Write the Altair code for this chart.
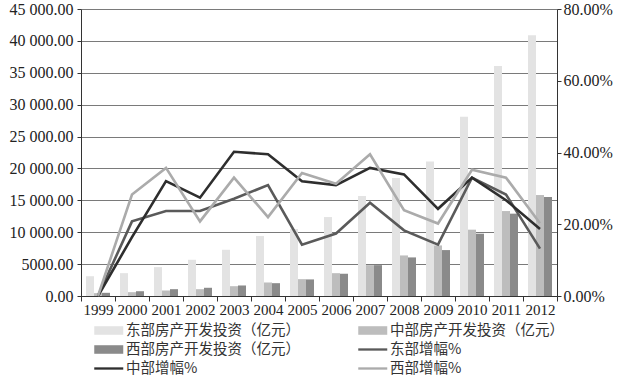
import altair as alt
import pandas as pd

years = [str(y) for y in range(1999, 2013)]
inv_names = ["东部房产开发投资（亿元）", "中部房产开发投资（亿元）", "西部房产开发投资（亿元）"]
rate_names = ["东部增幅%", "中部增幅%", "西部增幅%"]

east_inv = [3100, 3580, 4530, 5680, 7250, 9400, 10500, 12380, 15680, 18500, 21080, 28090, 36050, 40870]
mid_inv = [450, 600, 860, 1070, 1540, 2120, 2640, 3580, 4840, 6360, 7930, 10400, 13320, 15830]
west_inv = [500, 750, 1070, 1290, 1650, 2010, 2600, 3490, 4840, 6050, 7200, 9770, 12910, 15520]

east_rate = [0, 20.8, 23.7, 23.7, 27.1, 30.9, 14.3, 17.4, 26.0, 18.3, 14.3, 33.0, 28.3, 13.2]
mid_rate = [0, 16.4, 32.0, 27.4, 40.2, 39.5, 32.0, 30.9, 35.7, 33.9, 24.3, 33.0, 26.7, 18.7]
west_rate = [0, 28.3, 35.7, 20.8, 33.0, 22.0, 34.3, 31.3, 39.5, 23.9, 20.2, 35.2, 33.0, 20.3]

colors = ["#e3e3e3", "#bdbdbd", "#8a8a8a", "#5a5a5a", "#2e2e2e", "#ababab"]

inv_rows = []
for name, vals in zip(inv_names, [east_inv, mid_inv, west_inv]):
    for y, v in zip(years, vals):
        inv_rows.append({"year": y, "series": name, "value": v})
inv_df = pd.DataFrame(inv_rows)

rate_rows = []
for name, vals in zip(rate_names, [east_rate, mid_rate, west_rate]):
    for y, v in zip(years, vals):
        rate_rows.append({"year": y, "series": name, "rate": v / 100.0})
rate_df = pd.DataFrame(rate_rows)

all_names = inv_names + rate_names
SERIF = "Liberation Serif"
CJK = "Noto Sans CJK SC"

BAR_PATH = "M-1,-0.59H3V0.59H-1Z"
LINE_PATH = "M-1,-0.16H3V0.16H-1Z"
shape_expr = (
    "indexof(['东部增幅%','中部增幅%','西部增幅%'], datum.value) < 0 ? '"
    + BAR_PATH + "' : '" + LINE_PATH + "'"
)

color_enc = alt.Color(
    "series:N",
    scale=alt.Scale(domain=all_names, range=colors),
    sort=all_names,
    legend=alt.Legend(
        title=None,
        orient="none",
        direction="horizontal",
        legendX=13,
        legendY=314,
        columns=2,
        columnPadding=58,
        rowPadding=4,
        padding=0,
        symbolType={"expr": shape_expr},
        symbolFillColor={"expr": "scale('color', datum.value)"},
        symbolSize=210.25,
        symbolStrokeWidth=0,
        symbolOpacity=1,
        labelFont=CJK,
        labelFontSize=14.5,
        labelColor="#333333",
        labelLimit=400,
        labelOffset=17,
    ),
)

x_enc = alt.X(
    "year:N",
    sort=years,
    scale=alt.Scale(domain=years, paddingInner=0, paddingOuter=0),
    axis=alt.Axis(
        title=None,
        labelAngle=0,
        labelFont=SERIF,
        labelFontSize=15,
        labelColor="#222222",
        labelPadding=1,
        tickBand="extent",
        tickSize=5,
        tickColor="#333333",
        domainColor="#333333",
        grid=False,
    ),
)

bars = alt.Chart(inv_df).mark_bar().encode(
    x=x_enc,
    xOffset=alt.XOffset(
        "series:N",
        sort=inv_names,
        scale=alt.Scale(domain=inv_names, paddingInner=0, paddingOuter=0.625),
    ),
    y=alt.Y(
        "value:Q",
        scale=alt.Scale(domain=[0, 45000], nice=False),
        axis=alt.Axis(
            title=None,
            values=list(range(0, 45001, 5000)),
            labelExpr="datum.value >= 10000 ? replace(format(datum.value, ',.2f'), ',', ' ') : format(datum.value, '.2f')",
            labelFont=SERIF,
            labelFontSize=16,
            labelColor="#222222",
            labelPadding=4,
            tickSize=4,
            tickColor="#333333",
            domainColor="#333333",
            grid=True,
            gridColor="#7a7a7a",
            gridWidth=1,
        ),
    ),
    color=color_enc,
)

lines = alt.Chart(rate_df).mark_line(strokeWidth=2.6).encode(
    x=x_enc,
    y=alt.Y(
        "rate:Q",
        scale=alt.Scale(domain=[0, 0.8], nice=False),
        axis=alt.Axis(
            title=None,
            orient="right",
            values=[0, 0.2, 0.4, 0.6, 0.8],
            format=".2%",
            labelFont=SERIF,
            labelFontSize=16,
            labelColor="#222222",
            labelPadding=2,
            tickSize=4,
            tickColor="#333333",
            domainColor="#333333",
            grid=False,
        ),
    ),
    color=color_enc,
    order=alt.Order("series:N"),
)

chart = (
    alt.layer(bars, lines)
    .resolve_scale(y="independent")
    .properties(
        width=476,
        height=287,
        autosize="none",
        padding={"left": 81, "top": 9, "right": 60, "bottom": 80},
        background="white",
    )
    .configure_view(stroke=None)
)

chart.save("out.html", embed_options={"renderer": "svg", "actions": False})
